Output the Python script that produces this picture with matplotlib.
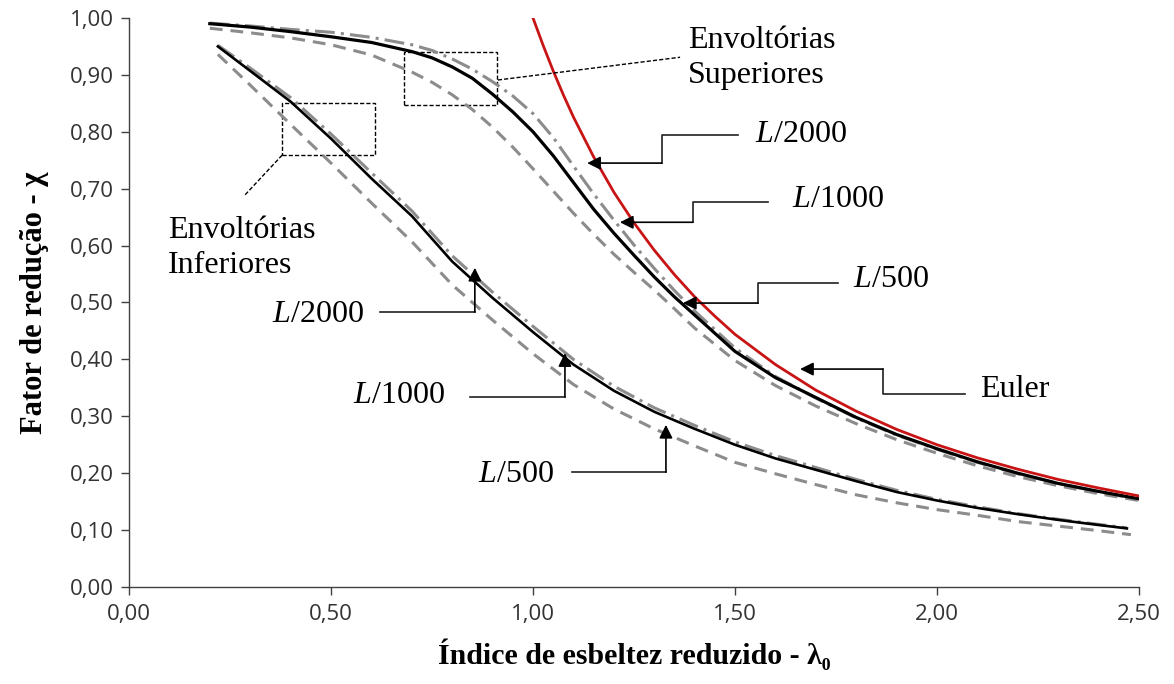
import matplotlib
matplotlib.use("Agg")
import matplotlib.pyplot as plt
from matplotlib.patches import Rectangle
from matplotlib.ticker import FuncFormatter, MultipleLocator

plt.rcParams['font.family'] = ['Open Sans', 'DejaVu Sans']
plt.rcParams['mathtext.fontset'] = 'custom'
plt.rcParams['mathtext.rm'] = 'Liberation Serif'
plt.rcParams['mathtext.it'] = 'Liberation Serif:italic'
plt.rcParams['mathtext.bf'] = 'Liberation Serif:bold'

# esbeltez reduzida e fatores de redução (envoltórias superiores)
lam_sup = [0.2, 0.3, 0.4, 0.5, 0.6, 0.7, 0.75, 0.8, 0.85, 0.9, 0.95, 1.0, 1.05, 1.1,
           1.15, 1.2, 1.25, 1.3, 1.35, 1.4, 1.5, 1.6, 1.7, 1.8, 1.9, 2.0, 2.1, 2.2,
           2.3, 2.4, 2.5]
sup_2000 = [0.990, 0.984, 0.976, 0.967, 0.957, 0.941, 0.930, 0.914, 0.894, 0.866, 0.835, 0.800,
            0.758, 0.711, 0.664, 0.622, 0.583, 0.545, 0.510, 0.478, 0.414, 0.368, 0.333,
            0.298, 0.268, 0.243, 0.220, 0.200, 0.182, 0.168, 0.155]
sup_1000 = [0.991, 0.986, 0.980, 0.975, 0.966, 0.953, 0.943, 0.928, 0.910, 0.888, 0.863, 0.832,
            0.790, 0.740, 0.691, 0.645, 0.601, 0.560, 0.521, 0.485, 0.420, 0.370, 0.332,
            0.297, 0.267, 0.242, 0.219, 0.199, 0.182, 0.167, 0.154]
sup_500 = [0.982, 0.974, 0.965, 0.953, 0.935, 0.905, 0.887, 0.865, 0.839, 0.808, 0.773, 0.735,
           0.696, 0.657, 0.620, 0.585, 0.553, 0.522, 0.489, 0.455, 0.398, 0.354, 0.318,
           0.287, 0.259, 0.235, 0.213, 0.194, 0.178, 0.164, 0.152]

# envoltórias inferiores
lam_inf = [0.22, 0.3, 0.4, 0.5, 0.6, 0.7, 0.8, 0.9, 1.0, 1.1, 1.2, 1.3,
           1.4, 1.5, 1.6, 1.7, 1.8, 1.9, 2.0, 2.1, 2.2, 2.3, 2.4, 2.47]
inf_2000 = [0.950, 0.907, 0.853, 0.788, 0.718, 0.652, 0.572, 0.508, 0.448, 0.391, 0.345, 0.308,
            0.278, 0.250, 0.226, 0.206, 0.186, 0.167, 0.152, 0.139, 0.128, 0.118, 0.109, 0.103]
inf_1000 = [0.952, 0.912, 0.860, 0.796, 0.728, 0.661, 0.582, 0.518, 0.458, 0.400, 0.353, 0.315,
            0.284, 0.255, 0.231, 0.210, 0.189, 0.170, 0.154, 0.141, 0.129, 0.119, 0.110, 0.104]
lam_inf500 = [0.22, 0.3, 0.4, 0.5, 0.6, 0.7, 0.8, 0.9, 1.0, 1.1, 1.2, 1.3,
              1.4, 1.5, 1.6, 1.7, 1.8, 1.9, 2.0, 2.1, 2.2, 2.3, 2.4, 2.48]
inf_500 = [0.936, 0.882, 0.813, 0.745, 0.675, 0.607, 0.531, 0.469, 0.410, 0.356, 0.313, 0.278,
           0.248, 0.219, 0.199, 0.180, 0.162, 0.148, 0.136, 0.126, 0.115, 0.107, 0.099, 0.092]

# curva de Euler
lam_euler = [1.0, 1.025, 1.05, 1.075, 1.1, 1.15, 1.2, 1.25, 1.3, 1.35, 1.4, 1.45, 1.5, 1.6,
             1.7, 1.8, 1.9, 2.0, 2.1, 2.2, 2.3, 2.4, 2.5]
euler = [1.000, 0.952, 0.907, 0.865, 0.826, 0.756, 0.694, 0.640, 0.592, 0.549, 0.510, 0.476,
         0.444, 0.391, 0.346, 0.309, 0.277, 0.250, 0.227, 0.207, 0.189, 0.174, 0.160]

fig = plt.figure(figsize=(11.74, 6.84), dpi=100)
ax = fig.add_axes([0.1099, 0.1418, 0.8603, 0.8319])

cinza = '#8c8c8c'
traco_ponto = (0, (6.5, 2.0, 1.0, 2.0))
tracejado = (0, (4.2, 2.6))

ax.plot(lam_sup, sup_1000, color=cinza, lw=2.2, ls=traco_ponto)
ax.plot(lam_sup, sup_500, color=cinza, lw=2.2, ls=tracejado)
ax.plot(lam_inf, inf_1000, color=cinza, lw=2.2, ls=traco_ponto)
ax.plot(lam_inf500, inf_500, color=cinza, lw=2.2, ls=tracejado)
ax.plot(lam_sup, sup_2000, color='black', lw=2.3)
ax.plot(lam_inf, inf_2000, color='black', lw=1.9)
ax.plot(lam_euler, euler, color='#c81414', lw=2.0)

ax.set_xlim(0, 2.5)
ax.set_ylim(0, 1.0)
ax.xaxis.set_major_locator(MultipleLocator(0.5))
ax.yaxis.set_major_locator(MultipleLocator(0.1))
fmt = FuncFormatter(lambda v, p: f'{v:.2f}'.replace('.', ','))
ax.xaxis.set_major_formatter(fmt)
ax.yaxis.set_major_formatter(fmt)
for s in ['top', 'right']:
    ax.spines[s].set_visible(False)
for s in ['left', 'bottom']:
    ax.spines[s].set_color('#404040')
    ax.spines[s].set_linewidth(1.0)
ax.tick_params(direction='out', length=6, width=1.0, color='#404040',
               labelsize=16, labelcolor='#333333', pad=5)
ax.tick_params(axis='x', pad=6)

serif = ['Liberation Serif', 'DejaVu Serif']
ax.set_xlabel('Índice de esbeltez reduzido - λ₀', family=serif, fontsize=21.5,
              fontweight='bold', labelpad=10)
ax.set_ylabel('Fator de redução - χ', family=serif, fontsize=22,
              fontweight='bold', labelpad=15)


def chamada(texto, pos_txt, pontos):
    # texto com linha em degrau e seta na ponta
    ax.text(pos_txt[0], pos_txt[1], texto, family=serif, fontsize=23, va='baseline')
    xs = [p[0] for p in pontos[:-1]]
    ys = [p[1] for p in pontos[:-1]]
    ax.plot(xs, ys, color='#202020', lw=1.2)
    ax.annotate('', xy=pontos[-1], xytext=pontos[-2],
                arrowprops=dict(arrowstyle='-|>', color='black', lw=1.2,
                                mutation_scale=20, shrinkA=0, shrinkB=0))


chamada(r'$\mathit{L}$/2000', (1.550, 0.782),
        [(1.507, 0.794), (1.319, 0.794), (1.319, 0.745), (1.134, 0.745)])
chamada(r'$\mathit{L}$/1000', (1.641, 0.668),
        [(1.582, 0.677), (1.396, 0.677), (1.396, 0.641), (1.215, 0.641)])
chamada(r'$\mathit{L}$/500', (1.792, 0.527),
        [(1.755, 0.534), (1.557, 0.534), (1.557, 0.499), (1.371, 0.499)])
chamada('Euler', (2.106, 0.334),
        [(2.069, 0.339), (1.866, 0.339), (1.866, 0.383), (1.661, 0.383)])
chamada(r'$\mathit{L}$/2000', (0.354, 0.466),
        [(0.621, 0.483), (0.856, 0.483), (0.856, 0.561)])
chamada(r'$\mathit{L}$/1000', (0.554, 0.323),
        [(0.844, 0.334), (1.079, 0.334), (1.079, 0.411)])
chamada(r'$\mathit{L}$/500', (0.864, 0.185),
        [(1.097, 0.202), (1.329, 0.202), (1.329, 0.285)])

# caixas tracejadas e textos das envoltórias
pont = (0, (3, 1.5))
ax.add_patch(Rectangle((0.681, 0.847), 0.230, 0.093, fill=False, ec='black', lw=1.0, ls=pont))
ax.add_patch(Rectangle((0.379, 0.759), 0.230, 0.092, fill=False, ec='black', lw=1.0, ls=pont))
ax.plot([0.913, 1.364], [0.891, 0.931], color='black', lw=1.0, ls=pont)
ax.plot([0.379, 0.287], [0.759, 0.689], color='black', lw=1.0, ls=pont)

ax.text(1.384, 0.948, 'Envoltórias', family=serif, fontsize=23, va='baseline')
ax.text(1.384, 0.886, 'Superiores', family=serif, fontsize=23, va='baseline')
ax.text(0.097, 0.613, 'Envoltórias', family=serif, fontsize=23, va='baseline')
ax.text(0.097, 0.552, 'Inferiores', family=serif, fontsize=23, va='baseline')

fig.savefig('out.png', dpi=100)
